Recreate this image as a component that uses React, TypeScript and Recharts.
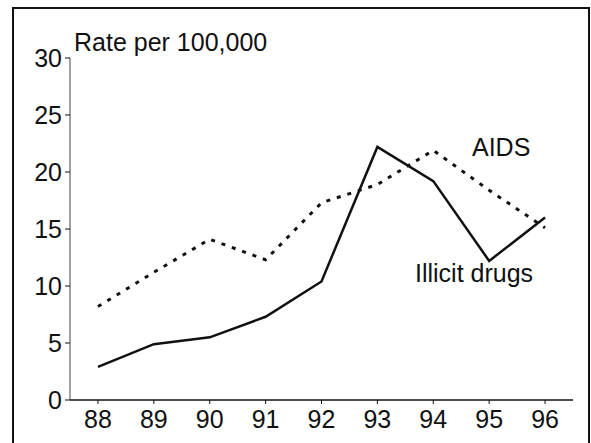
import React from "react";
import { LineChart, Line, XAxis, YAxis } from "recharts";

const years = [88, 89, 90, 91, 92, 93, 94, 95, 96];
const illicitDrugs = [2.9, 4.9, 5.5, 7.3, 10.4, 22.2, 19.2, 12.2, 16.0];
const aids = [8.2, 11.2, 14.1, 12.3, 17.3, 18.9, 21.9, 18.4, 15.1];
const yTicks = [0, 5, 10, 15, 20, 25, 30];

const data = years.map((y, i) => ({ year: y, drugs: illicitDrugs[i], aids: aids[i] }));

const FONT = "'Liberation Sans', Arial, sans-serif";
const tickStyle = { fill: "#111", fontSize: 25, fontFamily: FONT };

export default function App() {
  return (
    <div style={{ position: "absolute", left: 0, top: 0, width: 591, height: 443, background: "#fff", overflow: "hidden" }}>
      {/* frame */}
      <div style={{ position: "absolute", left: 12, top: 7, width: 574, height: 460, border: "2px solid #111" }} />
      <LineChart width={591} height={443} data={data} margin={{ top: 58, right: 18, bottom: 0, left: 0 }}>
        <XAxis dataKey="year" type="number" domain={[87.5, 96.5]} ticks={years}
               height={43} tickSize={4} tickMargin={6} interval={0}
               axisLine={{ stroke: "#111", strokeWidth: 1.5 }} tickLine={{ stroke: "#111" }}
               tick={tickStyle} />
        <YAxis type="number" domain={[0, 30]} ticks={yTicks} width={70}
               tickSize={5} tickMargin={3}
               axisLine={{ stroke: "#444", strokeWidth: 1 }} tickLine={{ stroke: "#111" }}
               tick={tickStyle} />
        <Line dataKey="aids" stroke="#111" strokeWidth={3} strokeDasharray="4 7" dot={false}
              isAnimationActive={false} />
        <Line dataKey="drugs" stroke="#111" strokeWidth={2.5} dot={false}
              isAnimationActive={false} />
      </LineChart>
      <div style={{ position: "absolute", left: 74, top: 29, fontFamily: FONT, fontSize: 25, lineHeight: 1.117, color: "#111", whiteSpace: "nowrap" }}>
        Rate per 100,000
      </div>
      <div style={{ position: "absolute", left: 472, top: 134, fontFamily: FONT, fontSize: 25, lineHeight: 1.117, color: "#111" }}>
        AIDS
      </div>
      <div style={{ position: "absolute", left: 415, top: 260, fontFamily: FONT, fontSize: 25, lineHeight: 1.117, color: "#111", whiteSpace: "nowrap" }}>
        Illicit drugs
      </div>
    </div>
  );
}
